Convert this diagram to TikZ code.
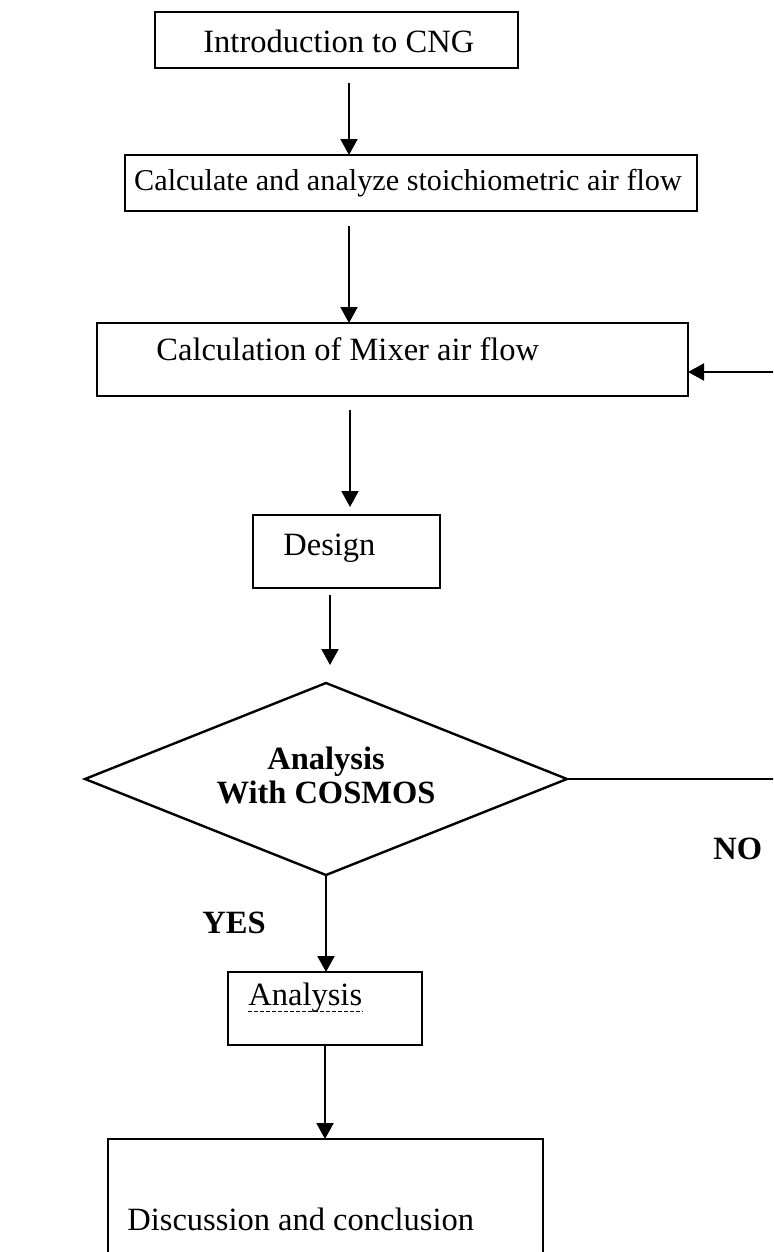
\documentclass[tikz,border=0pt]{standalone}
\usepackage{fontspec}
\setmainfont{Liberation Serif}
\usetikzlibrary{arrows.meta,shapes.geometric,calc}
\begin{document}
\begin{tikzpicture}[x=0.5pt,y=-0.5pt,
  box/.style={draw,line width=1.2pt,inner sep=0pt,outer sep=0pt},
  txt/.style={anchor=base west,inner sep=0pt,font=\fontsize{16.25pt}{18pt}\selectfont},
  btxt/.style={anchor=base west,inner sep=0pt,font=\fontsize{16.25pt}{17pt}\selectfont\bfseries},
  arr/.style={line width=1pt,-{Triangle[length=8pt,width=8.5pt]}},
  squiggle/.style={line width=0.5pt,dash pattern=on 2pt off 1pt}]
\useasboundingbox (0,0) rectangle (773,1252);
\clip (0,0) rectangle (773,1252);
% boxes
\node[box,minimum width=181.5pt,minimum height=28pt] (b1) at (336.5,40) {};
\node[box,minimum width=286pt,minimum height=28pt] (b2) at (411,183) {};
\node[box,minimum width=295.5pt,minimum height=36.5pt] (b3) at (392.5,359.5) {};
\node[box,minimum width=93.5pt,minimum height=36.5pt] (b4) at (346.5,551.5) {};
\node[box,shape=diamond,minimum width=241pt,minimum height=96pt] (dia) at (326,779) {};
\node[box,minimum width=97pt,minimum height=36.5pt] (b5) at (325,1008.5) {};
\node[box,minimum width=217.5pt,minimum height=80.5pt] (b6) at (325.5,1219.5) {};
% texts
\node[txt] (t1) at (203,53) {Introduction to CNG};
\node[txt,anchor=base,font=\fontsize{15.1pt}{18pt}\selectfont] (t2) at (408,190) {Calculate and analyze stoichiometric air flow};
\node[txt] (t3) at (156,360) {Calculation of Mixer air flow};
\node[txt] (t4) at (283,555) {Design};
\node[btxt,anchor=center,align=center] (t5) at (326,775) {Analysis\\With COSMOS};
\node[btxt] (t6) at (713,859) {NO};
\node[btxt] (t7) at (202,933) {YES};
\node[txt] (t8) at (248,1005) {Analysis};
\draw[squiggle] ($(t8.base west)+(0,6)$) -- ($(t8.base east)+(0,6)$);
\node[txt] (t9) at (127,1230) {Discussion and conclusion};
% connectors
\coordinate (xa) at (349,0);
\coordinate (xb) at (350,0);
\coordinate (xc) at (330,0);
\coordinate (fb1) at (800,779);
\coordinate (fb2) at (800,372);
\draw[arr,shorten <=7.5pt] (b1.south -| xa) -- (b2.north -| xa);
\draw[arr,shorten <=7.5pt] (b2.south -| xa) -- (b3.north -| xa);
\draw[arr,shorten <=7pt,shorten >=4pt] (b3.south -| xb) -- (b4.north -| xb);
\draw[arr,shorten <=3.5pt,shorten >=9pt] (b4.south -| xc) -- (dia.north -| xc);
\draw[arr] (dia.south) -- (dia.south |- b5.north);
\draw[arr] (b5.south) -- (b5.south |- b6.north);
\draw[arr] (dia.east) -- (fb1) -- (fb2) -- (b3.east |- fb2);
\end{tikzpicture}
\end{document}
